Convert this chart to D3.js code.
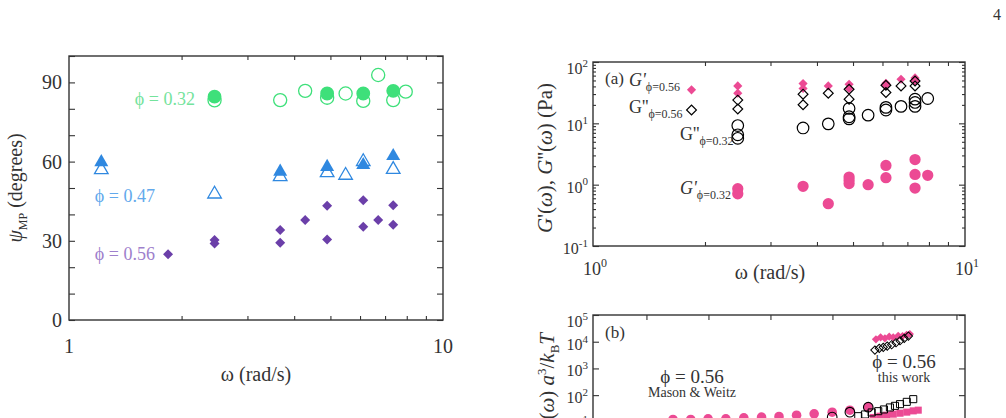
<!DOCTYPE html>
<html>
<head>
<meta charset="utf-8">
<script src="https://cdn.jsdelivr.net/npm/d3@7"></script>
<style>
  body { margin: 0; background: #fff; }
  svg { display: block; font-family: "Liberation Serif", "DejaVu Serif", serif; }
</style>
</head>
<body>
<div id="figure"></div>
<script>
// ---- left panel: psi_MP vs omega ----
const w_032_open = [2.45, 3.67, 4.28, 4.9, 5.49, 6.12, 6.71, 7.36, 7.95];
const psi_032_open = [83.2, 83.3, 86.8, 84.2, 85.8, 83.0, 92.8, 83.3, 86.5];
const w_032_fill = [2.45, 4.9, 6.12, 7.36];
const psi_032_fill = [84.6, 85.8, 85.8, 86.8];

const w_047_open = [1.22, 2.45, 3.67, 4.9, 5.49, 6.12, 7.36];
const psi_047_open = [56.9, 47.7, 54.3, 55.8, 54.8, 60.0, 57.0];
const w_047_fill = [1.22, 3.67, 4.9, 6.12, 7.36];
const psi_047_fill = [59.8, 56.2, 58.0, 58.7, 62.1];

const w_056 = [1.84, 2.45, 2.45, 3.67, 3.67, 4.28, 4.9, 4.9, 6.12, 6.12, 6.71, 7.36, 7.36];
const psi_056 = [24.9, 30.3, 29.0, 34.1, 29.3, 37.9, 43.3, 30.5, 45.4, 35.3, 37.9, 43.5, 36.1];

const psiTickLabels = [0, 30, 60, 90];

// ---- panel (a): G', G'' in Pa ----
const wa_Gp056 = [1.84, 2.45, 2.45, 3.67, 3.67, 4.29, 4.88, 4.88, 6.13, 6.13, 6.73, 7.34, 7.34];
const Gp056 = [35.2, 40.8, 31.0, 44.5, 37.0, 40.8, 43.4, 37.0, 45.0, 41.7, 52.3, 55.0, 49.0];
const wa_Gpp056 = [1.84, 2.45, 2.45, 3.67, 3.67, 4.29, 4.88, 4.88, 6.13, 6.13, 6.73, 7.34, 7.34];
const Gpp056 = [16.5, 23.9, 17.1, 29.9, 20.1, 31.0, 36.0, 24.8, 41.7, 31.8, 40.8, 49.0, 40.8];
const wa_Gpp032 = [2.45, 2.45, 2.45, 3.67, 4.29, 4.88, 4.88, 4.88, 5.49, 6.13, 6.13, 6.73, 7.34, 7.34, 7.34, 7.94];
const Gpp032 = [9.2, 6.5, 5.7, 8.4, 9.8, 17.5, 12.8, 11.8, 13.6, 18.2, 16.5, 18.9, 24.8, 21.9, 18.9, 25.4];
const wa_Gp032 = [2.45, 2.45, 3.67, 4.29, 4.88, 4.88, 4.88, 5.49, 6.13, 6.13, 7.34, 7.34, 7.34, 7.94];
const Gp032 = [0.86, 0.71, 0.94, 0.49, 1.33, 1.18, 1.04, 1.0, 2.06, 1.3, 2.57, 1.47, 0.88, 1.42];

const aYExponents = [-1, 0, 1, 2];
const aXExponents = [0, 1];

// ---- panel (b): scaled moduli (only the top is on the page) ----
const wb_mw_fill = [0.0268, 0.0518, 0.0987, 0.191, 0.372, 0.719, 1.374, 2.64, 5.07, 9.91, 19.1, 37.8];
const Gb_mw_fill = [12.3, 12.3, 12.9, 12.9, 14.1, 15.1, 15.9, 17.8, 20.0, 23.0, 27.4, 36.0];
const wb_mw_open = [9.91, 19.1, 37.8];
const Gb_mw_open = [15.1, 23.1, 35.5];
const wb_sq_fill = [45.5, 58.4, 74.7, 95.6, 123, 158, 201, 242];
const Gb_sq_fill = [14.6, 16.3, 17.8, 19.4, 21.1, 23.1, 25.8, 27.4];
const wb_sq_open = [26.1, 33.4, 42.9, 54.8, 67.7, 84.5, 102, 123, 158, 201];
const Gb_sq_open = [16.3, 18.9, 22.5, 25.1, 29.1, 34.6, 39.7, 46.0, 56.1, 70.8];
const wb_tw_Gp = [50.3, 59.8, 70.2, 82.4, 95.6, 115, 135, 157, 177];
const Gb_tw_Gp = [12300, 14600, 13400, 15400, 14600, 16700, 16300, 18200, 19400];
const wb_tw_Gpp = [48.4, 56.9, 66.0, 76.5, 90.1, 106, 123, 144, 168];
const Gb_tw_Gpp = [4870, 5640, 6150, 6880, 7700, 9150, 10900, 13400, 16300];

const bYExponents = [1, 2, 3, 4, 5];

const ink = "#333";
const green = "#3ee07a", greenText = "#74e39c";
const blue = "#2f88e0", blueText = "#62a9ec";
const purple = "#6b3fa9", purpleText = "#9e80cc";
const pink = "#ec4a94";

const svg = d3.select("#figure").append("svg")
  .attr("width", 1006).attr("height", 418);

svg.append("rect").attr("width", 1006).attr("height", 418).attr("fill", "#fff");

// page number
svg.append("text").attr("x", 993).attr("y", 20).attr("fill", ink)
  .style("font-size", "16px").text("4");

const zip = (xs, ys) => xs.map((d, i) => ({x: d, y: ys[i]}));

function logMinor(lo, hi) {
  const out = [];
  for (let e = lo; e < hi; e++)
    for (let m = 2; m <= 9; m++) out.push(m * Math.pow(10, e));
  return out;
}

// inward ticks drawn with d3 axes, labels are added separately
function innerTicks(g, axis, transform, values, size) {
  g.append("g")
    .attr("transform", transform)
    .attr("color", ink)
    .call(axis.tickValues(values).tickSize(-size).tickFormat(""))
    .call(a => a.select(".domain").remove())
    .selectAll("line").attr("stroke-width", 1.1);
}

function drawMarks(g, data, x, y, opt) {
  const sym = d3.symbol().type(opt.type).size(opt.size);
  g.append("g").selectAll("path")
    .data(data)
    .join("path")
      .attr("d", sym)
      .attr("transform", d => `translate(${x(d.x)},${y(d.y)})` + (opt.rotate ? " rotate(45)" : ""))
      .attr("fill", opt.fill)
      .attr("stroke", opt.stroke || "none")
      .attr("stroke-width", opt.sw || 0);
}

function powLabel(g, x, y, exp, opt) {
  const t = g.append("text")
    .attr("x", x).attr("y", y)
    .attr("text-anchor", opt.anchor)
    .attr("fill", ink)
    .style("font-size", opt.size + "px");
  t.append("tspan").text("10");
  t.append("tspan").attr("dy", -opt.size * 0.45)
    .style("font-size", opt.sup + "px").text(exp);
}

function subLabel(g, x, y, main, sub, italic, color, size) {
  const t = g.append("text").attr("x", x).attr("y", y)
    .attr("fill", color || ink).style("font-size", (size || 18) + "px");
  t.append("tspan").style("font-style", italic ? "italic" : "normal").text(main);
  t.append("tspan").attr("dy", 5).style("font-size", "12px").text(sub);
}

// ================= left panel =================
function drawPsiPanel() {
  const box = {left: 69, right: 443, top: 56, bottom: 320};
  const x = d3.scaleLog().domain([1, 10]).range([box.left, box.right]);
  const y = d3.scaleLinear().domain([0, 100]).range([box.bottom, box.top]);
  const g = svg.append("g");

  const yt = d3.range(0, 101, 10);
  innerTicks(g, d3.axisLeft(y), `translate(${box.left},0)`, yt, 6);
  innerTicks(g, d3.axisRight(y), `translate(${box.right},0)`, yt, 6);
  innerTicks(g, d3.axisBottom(x), `translate(0,${box.bottom})`, logMinor(0, 1), 4);
  innerTicks(g, d3.axisTop(x), `translate(0,${box.top})`, logMinor(0, 1), 4);

  g.append("rect")
    .attr("x", box.left).attr("y", box.top)
    .attr("width", box.right - box.left).attr("height", box.bottom - box.top)
    .attr("fill", "none").attr("stroke", ink).attr("stroke-width", 1.4);

  g.selectAll(".ylab").data(psiTickLabels).join("text")
    .attr("x", box.left - 7).attr("y", d => y(d) + 7)
    .attr("text-anchor", "end").attr("fill", ink)
    .style("font-size", "20px").text(d => d);

  g.selectAll(".xlab").data([1, 10]).join("text")
    .attr("x", d => x(d)).attr("y", 353)
    .attr("text-anchor", "middle").attr("fill", ink)
    .style("font-size", "20px").text(d => d);

  g.append("text").attr("x", 256).attr("y", 381)
    .attr("text-anchor", "middle").attr("fill", ink)
    .style("font-size", "20px").text("ω (rad/s)");

  const yl = g.append("text")
    .attr("transform", "translate(22,188) rotate(-90)")
    .attr("text-anchor", "middle").attr("fill", ink)
    .style("font-size", "20px");
  yl.append("tspan").style("font-style", "italic").text("ψ");
  yl.append("tspan").attr("dy", 5).style("font-size", "12px").text("MP");
  yl.append("tspan").attr("dy", -5).text(" (degrees)");

  // series
  drawMarks(g, zip(w_032_open, psi_032_open), x, y, {type: d3.symbolCircle, size: 135, fill: "none", stroke: green, sw: 1.3});
  drawMarks(g, zip(w_032_fill, psi_032_fill), x, y, {type: d3.symbolCircle, size: 150, fill: green});
  drawMarks(g, zip(w_047_open, psi_047_open), x, y, {type: d3.symbolTriangle, size: 80, fill: "none", stroke: blue, sw: 1.3});
  drawMarks(g, zip(w_047_fill, psi_047_fill), x, y, {type: d3.symbolTriangle, size: 85, fill: blue});
  drawMarks(g, zip(w_056, psi_056), x, y, {type: d3.symbolSquare, size: 50, fill: purple, rotate: true});

  const tag = (tx, ty, txt, col) => g.append("text")
    .attr("x", tx).attr("y", ty).attr("text-anchor", "end").attr("fill", col)
    .style("font-size", "18px").text(txt);
  tag(195, 105, "ϕ = 0.32", greenText);
  tag(155, 202, "ϕ = 0.47", blueText);
  tag(155, 260, "ϕ = 0.56", purpleText);
}

// ================= panel (a) =================
function drawModuliPanel() {
  const box = {left: 593, right: 965, top: 62, bottom: 246};
  const x = d3.scaleLog().domain([1, 10]).range([box.left, box.right]);
  const y = d3.scaleLog().domain([0.1, 100]).range([box.bottom, box.top]);
  const g = svg.append("g");

  const yMaj = [0.1, 1, 10, 100];
  innerTicks(g, d3.axisLeft(y), `translate(${box.left},0)`, yMaj, 6);
  innerTicks(g, d3.axisRight(y), `translate(${box.right},0)`, yMaj, 6);
  innerTicks(g, d3.axisLeft(y), `translate(${box.left},0)`, logMinor(-1, 2), 3);
  innerTicks(g, d3.axisRight(y), `translate(${box.right},0)`, logMinor(-1, 2), 3);
  innerTicks(g, d3.axisBottom(x), `translate(0,${box.bottom})`, logMinor(0, 1), 4);
  innerTicks(g, d3.axisTop(x), `translate(0,${box.top})`, logMinor(0, 1), 4);

  g.append("rect")
    .attr("x", box.left).attr("y", box.top)
    .attr("width", box.right - box.left).attr("height", box.bottom - box.top)
    .attr("fill", "none").attr("stroke", ink).attr("stroke-width", 1.4);

  aYExponents.forEach(e => {
    const v = Math.pow(10, e);
    powLabel(g, box.left - 5, y(v) + 8 + (e === 2 ? 4 : 0), e, {anchor: "end", size: 16, sup: 11});
  });
  aXExponents.forEach(e => {
    powLabel(g, x(Math.pow(10, e)) - 10, 275, e, {anchor: "start", size: 18, sup: 12});
  });

  g.append("text").attr("x", 770).attr("y", 279)
    .attr("text-anchor", "middle").attr("fill", ink)
    .style("font-size", "20px").text("ω (rad/s)");

  const yl = g.append("text")
    .attr("transform", "translate(552,158) rotate(-90)")
    .attr("text-anchor", "middle").attr("fill", ink)
    .style("font-size", "21px");
  yl.append("tspan").style("font-style", "italic").text("G");
  yl.append("tspan").text("'(");
  yl.append("tspan").style("font-style", "italic").text("ω");
  yl.append("tspan").text("), ");
  yl.append("tspan").style("font-style", "italic").text("G");
  yl.append("tspan").text("''(");
  yl.append("tspan").style("font-style", "italic").text("ω");
  yl.append("tspan").text(") (Pa)");

  drawMarks(g, zip(wa_Gp032, Gp032), x, y, {type: d3.symbolCircle, size: 100, fill: pink});
  drawMarks(g, zip(wa_Gpp032, Gpp032), x, y, {type: d3.symbolCircle, size: 105, fill: "none", stroke: "#000", sw: 1.2});
  drawMarks(g, zip(wa_Gp056, Gp056), x, y, {type: d3.symbolSquare, size: 42, fill: pink, rotate: true});
  drawMarks(g, zip(wa_Gpp056, Gpp056), x, y, {type: d3.symbolSquare, size: 48, fill: "none", stroke: "#000", sw: 1.2, rotate: true});

  g.append("text").attr("x", 605).attr("y", 84).attr("fill", ink)
    .style("font-size", "17px").text("(a)");
  subLabel(g, 629, 86, "G'", "ϕ=0.56", true);
  subLabel(g, 629, 113, "G''", "ϕ=0.56", false);
  subLabel(g, 680, 140, "G''", "ϕ=0.32", false);
  subLabel(g, 680, 194, "G'", "ϕ=0.32", true);
}

// ================= panel (b), cut by the page edge =================
function drawScaledPanel() {
  const box = {left: 593, right: 965, top: 315, bottom: 502};
  const x = d3.scaleLog().domain([Math.pow(10, -2.862), Math.pow(10, 3.138)]).range([box.left, box.right]);
  const y = d3.scaleLog().domain([0.01, 1e5]).range([box.bottom, box.top]);
  const g = svg.append("g");

  const yMaj = d3.range(-2, 6).map(e => Math.pow(10, e));
  const xMaj = d3.range(-2, 4).map(e => Math.pow(10, e));
  innerTicks(g, d3.axisLeft(y), `translate(${box.left},0)`, yMaj, 6);
  innerTicks(g, d3.axisRight(y), `translate(${box.right},0)`, yMaj, 6);
  innerTicks(g, d3.axisTop(x), `translate(0,${box.top})`, xMaj, 5);

  g.append("rect")
    .attr("x", box.left).attr("y", box.top)
    .attr("width", box.right - box.left).attr("height", box.bottom - box.top)
    .attr("fill", "none").attr("stroke", ink).attr("stroke-width", 1.4);

  bYExponents.forEach(e => {
    powLabel(g, box.left - 5, y(Math.pow(10, e)) + 8 + (e === 5 ? 4 : 0), e, {anchor: "end", size: 16, sup: 11});
  });

  const yl = g.append("text")
    .attr("transform", "translate(554,333) rotate(-90)")
    .attr("text-anchor", "end").attr("fill", ink)
    .style("font-size", "21px");
  yl.append("tspan").style("font-style", "italic").text("G");
  yl.append("tspan").text("'(");
  yl.append("tspan").style("font-style", "italic").text("ω");
  yl.append("tspan").text("), ");
  yl.append("tspan").style("font-style", "italic").text("G");
  yl.append("tspan").text("''(");
  yl.append("tspan").style("font-style", "italic").text("ω");
  yl.append("tspan").text(") ");
  yl.append("tspan").style("font-style", "italic").text("a");
  yl.append("tspan").attr("dy", -8).style("font-size", "13px").text("3");
  yl.append("tspan").attr("dy", 8).text("/");
  yl.append("tspan").style("font-style", "italic").text("k");
  yl.append("tspan").attr("dy", 5).style("font-size", "13px").text("B");
  yl.append("tspan").attr("dy", -5).style("font-style", "italic").text("T");

  drawMarks(g, zip(wb_mw_fill, Gb_mw_fill), x, y, {type: d3.symbolCircle, size: 72, fill: pink});
  drawMarks(g, zip(wb_mw_open, Gb_mw_open), x, y, {type: d3.symbolCircle, size: 72, fill: "none", stroke: "#000", sw: 1.1});
  drawMarks(g, zip(wb_sq_fill, Gb_sq_fill), x, y, {type: d3.symbolSquare, size: 50, fill: pink});
  drawMarks(g, zip(wb_sq_open, Gb_sq_open), x, y, {type: d3.symbolSquare, size: 50, fill: "none", stroke: "#000", sw: 1.0});
  drawMarks(g, zip(wb_tw_Gp, Gb_tw_Gp), x, y, {type: d3.symbolSquare, size: 34, fill: pink, rotate: true});
  drawMarks(g, zip(wb_tw_Gpp, Gb_tw_Gpp), x, y, {type: d3.symbolSquare, size: 34, fill: "none", stroke: "#000", sw: 1.0, rotate: true});

  g.append("text").attr("x", 605).attr("y", 338).attr("fill", ink)
    .style("font-size", "17px").text("(b)");

  const note = (tx, ty, txt, size) => g.append("text")
    .attr("x", tx).attr("y", ty).attr("text-anchor", "middle").attr("fill", ink)
    .style("font-size", size + "px").text(txt);
  note(692, 383, "ϕ = 0.56", 19);
  note(692, 397, "Mason & Weitz", 14);
  note(904, 368, "ϕ = 0.56", 19);
  note(904, 382, "this work", 14);
}

drawPsiPanel();
drawModuliPanel();
drawScaledPanel();
</script>
</body>
</html>
